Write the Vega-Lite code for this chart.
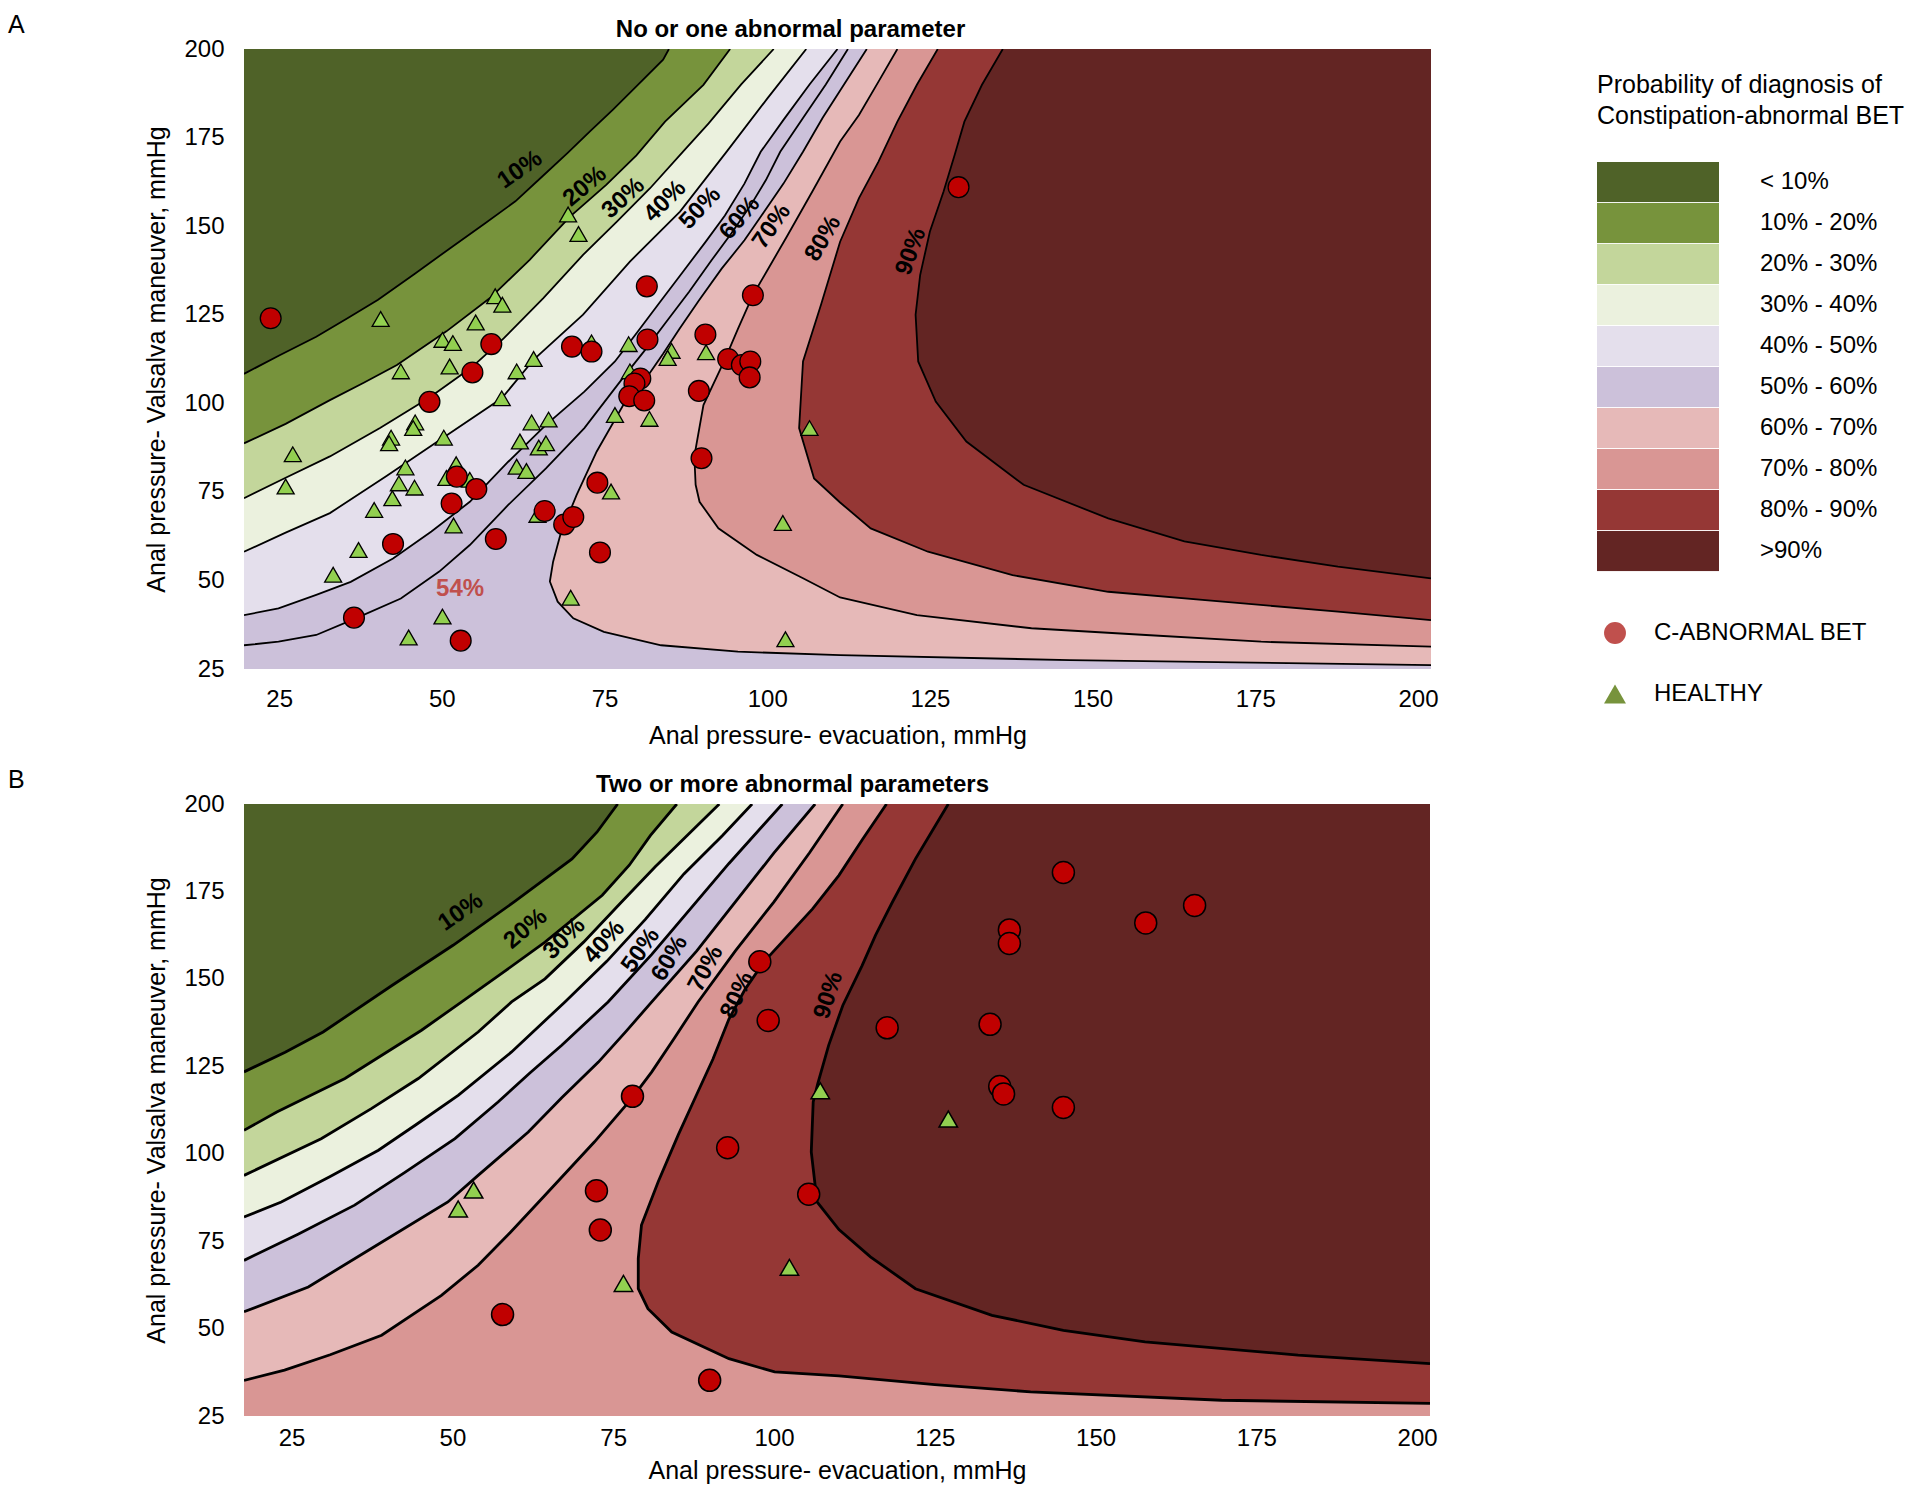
{
"$schema": "https://vega.github.io/schema/vega-lite/v6.json",
"padding": {"left": 7, "top": 13, "right": 5, "bottom": 5},
"background": "white",
"config": {
 "font": "Liberation Sans",
 "view": {"stroke": null},
 "axis": {"grid": false, "ticks": false, "domain": false, "labelFontSize": 24, "titleFontSize": 25, "titleFontWeight": "normal", "labelColor": "#000", "titleColor": "#000", "labelFont": "Liberation Sans", "titleFont": "Liberation Sans"},
 "axisBottom": {"labelPadding": 18, "titlePadding": 12},
 "axisLeft": {"labelPadding": 20, "titlePadding": 14},
 "legend": {"labelFont": "Liberation Sans", "titleFont": "Liberation Sans"},
 "title": {"font": "Liberation Sans"}
},
"datasets": {
 "contA": [
  {"cat":">90%","i":0,"x":19.6,"y":25,"e":0},{"cat":">90%","i":1,"x":202,"y":25,"e":0},{"cat":">90%","i":2,"x":202,"y":200,"e":0},{"cat":">90%","i":3,"x":19.6,"y":200,"e":0},
  {"cat":"80% - 90%","i":0,"x":136.2,"y":200,"e":1},{"cat":"80% - 90%","i":1,"x":133,"y":189.9,"e":1},{"cat":"80% - 90%","i":2,"x":130.3,"y":179.5,"e":1},{"cat":"80% - 90%","i":3,"x":128.8,"y":170.1,"e":1},{"cat":"80% - 90%","i":4,"x":127.1,"y":159.8,"e":1},{"cat":"80% - 90%","i":5,"x":125,"y":148.5,"e":1},{"cat":"80% - 90%","i":6,"x":123.5,"y":136.2,"e":1},{"cat":"80% - 90%","i":7,"x":122.8,"y":125,"e":1},{"cat":"80% - 90%","i":8,"x":123.2,"y":111.8,"e":1},{"cat":"80% - 90%","i":9,"x":125.9,"y":100.5,"e":1},{"cat":"80% - 90%","i":10,"x":130.6,"y":89.2,"e":1},{"cat":"80% - 90%","i":11,"x":139.4,"y":77,"e":1},{"cat":"80% - 90%","i":12,"x":152.4,"y":67.5,"e":1},{"cat":"80% - 90%","i":13,"x":164.1,"y":61,"e":1},{"cat":"80% - 90%","i":14,"x":175.9,"y":57.2,"e":1},{"cat":"80% - 90%","i":15,"x":187.7,"y":53.9,"e":1},{"cat":"80% - 90%","i":16,"x":202,"y":50.6,"e":1},{"cat":"80% - 90%","i":17,"x":202,"y":25,"e":0},{"cat":"80% - 90%","i":18,"x":19.6,"y":25,"e":0},{"cat":"80% - 90%","i":19,"x":19.6,"y":200,"e":0},
  {"cat":"70% - 80%","i":0,"x":126.2,"y":200,"e":1},{"cat":"70% - 80%","i":1,"x":123,"y":189.9,"e":1},{"cat":"70% - 80%","i":2,"x":120,"y":179.5,"e":1},{"cat":"70% - 80%","i":3,"x":117.1,"y":168.2,"e":1},{"cat":"70% - 80%","i":4,"x":114.1,"y":157.9,"e":1},{"cat":"70% - 80%","i":5,"x":111.2,"y":145.6,"e":1},{"cat":"70% - 80%","i":6,"x":108.3,"y":128,"e":1},{"cat":"70% - 80%","i":7,"x":105.5,"y":111.8,"e":1},{"cat":"70% - 80%","i":8,"x":104.9,"y":93,"e":1},{"cat":"70% - 80%","i":9,"x":107.2,"y":78.8,"e":1},{"cat":"70% - 80%","i":10,"x":111.2,"y":72,"e":1},{"cat":"70% - 80%","i":11,"x":115.9,"y":64.7,"e":1},{"cat":"70% - 80%","i":12,"x":124.7,"y":58.1,"e":1},{"cat":"70% - 80%","i":13,"x":137.7,"y":51.5,"e":1},{"cat":"70% - 80%","i":14,"x":152.4,"y":46.8,"e":1},{"cat":"70% - 80%","i":15,"x":170,"y":44,"e":1},{"cat":"70% - 80%","i":16,"x":187.7,"y":41.2,"e":1},{"cat":"70% - 80%","i":17,"x":202,"y":38.8,"e":1},{"cat":"70% - 80%","i":18,"x":202,"y":25,"e":0},{"cat":"70% - 80%","i":19,"x":19.6,"y":25,"e":0},{"cat":"70% - 80%","i":20,"x":19.6,"y":200,"e":0},
  {"cat":"60% - 70%","i":0,"x":120,"y":200,"e":1},{"cat":"60% - 70%","i":1,"x":117.1,"y":190.8,"e":1},{"cat":"60% - 70%","i":2,"x":114.1,"y":181.4,"e":1},{"cat":"60% - 70%","i":3,"x":111.2,"y":173.9,"e":1},{"cat":"60% - 70%","i":4,"x":107,"y":160,"e":1},{"cat":"60% - 70%","i":5,"x":103,"y":147,"e":1},{"cat":"60% - 70%","i":6,"x":100,"y":137.5,"e":1},{"cat":"60% - 70%","i":7,"x":97.8,"y":130.5,"e":1},{"cat":"60% - 70%","i":8,"x":95.5,"y":121,"e":1},{"cat":"60% - 70%","i":9,"x":93.4,"y":112,"e":1},{"cat":"60% - 70%","i":10,"x":90.2,"y":99.5,"e":1},{"cat":"60% - 70%","i":11,"x":88.8,"y":85,"e":1},{"cat":"60% - 70%","i":12,"x":89,"y":77,"e":1},{"cat":"60% - 70%","i":13,"x":89.6,"y":72.2,"e":1},{"cat":"60% - 70%","i":14,"x":92.5,"y":64.7,"e":1},{"cat":"60% - 70%","i":15,"x":98.4,"y":57.2,"e":1},{"cat":"60% - 70%","i":16,"x":105.5,"y":50.6,"e":1},{"cat":"60% - 70%","i":17,"x":111.2,"y":45.2,"e":1},{"cat":"60% - 70%","i":18,"x":123,"y":40.2,"e":1},{"cat":"60% - 70%","i":19,"x":140.6,"y":36.5,"e":1},{"cat":"60% - 70%","i":20,"x":158.2,"y":34.6,"e":1},{"cat":"60% - 70%","i":21,"x":175.9,"y":32.7,"e":1},{"cat":"60% - 70%","i":22,"x":202,"y":31.3,"e":1},{"cat":"60% - 70%","i":23,"x":202,"y":25,"e":0},{"cat":"60% - 70%","i":24,"x":19.6,"y":25,"e":0},{"cat":"60% - 70%","i":25,"x":19.6,"y":200,"e":0},
  {"cat":"50% - 60%","i":0,"x":115.3,"y":200,"e":1},{"cat":"50% - 60%","i":1,"x":111.8,"y":190,"e":1},{"cat":"50% - 60%","i":2,"x":108.5,"y":180.5,"e":1},{"cat":"50% - 60%","i":3,"x":105.5,"y":171,"e":1},{"cat":"50% - 60%","i":4,"x":102.5,"y":162,"e":1},{"cat":"50% - 60%","i":5,"x":99.5,"y":154,"e":1},{"cat":"50% - 60%","i":6,"x":96.5,"y":146,"e":1},{"cat":"50% - 60%","i":7,"x":93,"y":138,"e":1},{"cat":"50% - 60%","i":8,"x":89.5,"y":129,"e":1},{"cat":"50% - 60%","i":9,"x":86.5,"y":121,"e":1},{"cat":"50% - 60%","i":10,"x":84,"y":114,"e":1},{"cat":"50% - 60%","i":11,"x":81,"y":106,"e":1},{"cat":"50% - 60%","i":12,"x":77.9,"y":99.6,"e":1},{"cat":"50% - 60%","i":13,"x":73.8,"y":86.4,"e":1},{"cat":"50% - 60%","i":14,"x":70.7,"y":74.1,"e":1},{"cat":"50% - 60%","i":15,"x":68.2,"y":62.8,"e":1},{"cat":"50% - 60%","i":16,"x":67.1,"y":55.3,"e":1},{"cat":"50% - 60%","i":17,"x":66.6,"y":49.7,"e":1},{"cat":"50% - 60%","i":18,"x":67.8,"y":44,"e":1},{"cat":"50% - 60%","i":19,"x":70.2,"y":39.3,"e":1},{"cat":"50% - 60%","i":20,"x":74.9,"y":35.5,"e":1},{"cat":"50% - 60%","i":21,"x":83.7,"y":31.7,"e":1},{"cat":"50% - 60%","i":22,"x":95.5,"y":29.9,"e":1},{"cat":"50% - 60%","i":23,"x":111.2,"y":28.9,"e":1},{"cat":"50% - 60%","i":24,"x":146.5,"y":27.5,"e":1},{"cat":"50% - 60%","i":25,"x":202,"y":26.1,"e":1},{"cat":"50% - 60%","i":26,"x":202,"y":25,"e":0},{"cat":"50% - 60%","i":27,"x":19.6,"y":25,"e":0},{"cat":"50% - 60%","i":28,"x":19.6,"y":200,"e":0},
  {"cat":"40% - 50%","i":0,"x":19.6,"y":40.2,"e":1},{"cat":"40% - 50%","i":1,"x":24.9,"y":42.1,"e":1},{"cat":"40% - 50%","i":2,"x":30.7,"y":45.9,"e":1},{"cat":"40% - 50%","i":3,"x":36,"y":49.6,"e":1},{"cat":"40% - 50%","i":4,"x":42.5,"y":56.2,"e":1},{"cat":"40% - 50%","i":5,"x":48.4,"y":63.8,"e":1},{"cat":"40% - 50%","i":6,"x":54.3,"y":72.2,"e":1},{"cat":"40% - 50%","i":7,"x":60.2,"y":83.5,"e":1},{"cat":"40% - 50%","i":8,"x":66,"y":93.9,"e":1},{"cat":"40% - 50%","i":9,"x":71.9,"y":103.3,"e":1},{"cat":"40% - 50%","i":10,"x":76.6,"y":111.8,"e":1},{"cat":"40% - 50%","i":11,"x":80,"y":120,"e":1},{"cat":"40% - 50%","i":12,"x":83.5,"y":128.5,"e":1},{"cat":"40% - 50%","i":13,"x":87,"y":137,"e":1},{"cat":"40% - 50%","i":14,"x":90.5,"y":145.5,"e":1},{"cat":"40% - 50%","i":15,"x":93.5,"y":153,"e":1},{"cat":"40% - 50%","i":16,"x":96.5,"y":162,"e":1},{"cat":"40% - 50%","i":17,"x":99,"y":171,"e":1},{"cat":"40% - 50%","i":18,"x":102.5,"y":180,"e":1},{"cat":"40% - 50%","i":19,"x":106.5,"y":190,"e":1},{"cat":"40% - 50%","i":20,"x":110.8,"y":200,"e":1},{"cat":"40% - 50%","i":21,"x":19.6,"y":200,"e":0},
  {"cat":"30% - 40%","i":0,"x":19.6,"y":58.1,"e":1},{"cat":"30% - 40%","i":1,"x":26,"y":63.5,"e":1},{"cat":"30% - 40%","i":2,"x":32.8,"y":69,"e":1},{"cat":"30% - 40%","i":3,"x":41.5,"y":79.5,"e":1},{"cat":"30% - 40%","i":4,"x":50.2,"y":90.3,"e":1},{"cat":"30% - 40%","i":5,"x":59.2,"y":101.4,"e":1},{"cat":"30% - 40%","i":6,"x":64.2,"y":112.5,"e":1},{"cat":"30% - 40%","i":7,"x":71.7,"y":125,"e":1},{"cat":"30% - 40%","i":8,"x":78.9,"y":140,"e":1},{"cat":"30% - 40%","i":9,"x":86.6,"y":154.1,"e":1},{"cat":"30% - 40%","i":10,"x":93.8,"y":171.1,"e":1},{"cat":"30% - 40%","i":11,"x":100,"y":186,"e":1},{"cat":"30% - 40%","i":12,"x":106,"y":200,"e":1},{"cat":"30% - 40%","i":13,"x":19.6,"y":200,"e":0},
  {"cat":"20% - 30%","i":0,"x":19.6,"y":73.2,"e":1},{"cat":"20% - 30%","i":1,"x":26,"y":79,"e":1},{"cat":"20% - 30%","i":2,"x":32.8,"y":85,"e":1},{"cat":"20% - 30%","i":3,"x":40.5,"y":93,"e":1},{"cat":"20% - 30%","i":4,"x":48,"y":101.5,"e":1},{"cat":"20% - 30%","i":5,"x":54.5,"y":110,"e":1},{"cat":"20% - 30%","i":6,"x":59.5,"y":118.3,"e":1},{"cat":"20% - 30%","i":7,"x":65.6,"y":129.7,"e":1},{"cat":"20% - 30%","i":8,"x":71.7,"y":141.9,"e":1},{"cat":"20% - 30%","i":9,"x":76.9,"y":151.3,"e":1},{"cat":"20% - 30%","i":10,"x":82,"y":160.7,"e":1},{"cat":"20% - 30%","i":11,"x":87.1,"y":171.1,"e":1},{"cat":"20% - 30%","i":12,"x":91,"y":179,"e":1},{"cat":"20% - 30%","i":13,"x":96,"y":190,"e":1},{"cat":"20% - 30%","i":14,"x":101,"y":200,"e":1},{"cat":"20% - 30%","i":15,"x":19.6,"y":200,"e":0},
  {"cat":"10% - 20%","i":0,"x":19.6,"y":88.7,"e":1},{"cat":"10% - 20%","i":1,"x":26,"y":94.2,"e":1},{"cat":"10% - 20%","i":2,"x":32.8,"y":100.9,"e":1},{"cat":"10% - 20%","i":3,"x":38,"y":105.8,"e":1},{"cat":"10% - 20%","i":4,"x":43.1,"y":110.8,"e":1},{"cat":"10% - 20%","i":5,"x":50.7,"y":120.3,"e":1},{"cat":"10% - 20%","i":6,"x":57.4,"y":129.7,"e":1},{"cat":"10% - 20%","i":7,"x":63.5,"y":140.5,"e":1},{"cat":"10% - 20%","i":8,"x":69.7,"y":152.7,"e":1},{"cat":"10% - 20%","i":9,"x":75.3,"y":161.7,"e":1},{"cat":"10% - 20%","i":10,"x":79.9,"y":170,"e":1},{"cat":"10% - 20%","i":11,"x":84.3,"y":179.5,"e":1},{"cat":"10% - 20%","i":12,"x":90.2,"y":189.9,"e":1},{"cat":"10% - 20%","i":13,"x":94.3,"y":200,"e":1},{"cat":"10% - 20%","i":14,"x":19.6,"y":200,"e":0},
  {"cat":"< 10%","i":0,"x":19.6,"y":108.3,"e":1},{"cat":"< 10%","i":1,"x":25,"y":113.5,"e":1},{"cat":"< 10%","i":2,"x":30.7,"y":118.8,"e":1},{"cat":"< 10%","i":3,"x":35.5,"y":124,"e":1},{"cat":"< 10%","i":4,"x":40.2,"y":129.2,"e":1},{"cat":"< 10%","i":5,"x":45.8,"y":136.5,"e":1},{"cat":"< 10%","i":6,"x":51.6,"y":144.2,"e":1},{"cat":"< 10%","i":7,"x":56.5,"y":150.6,"e":1},{"cat":"< 10%","i":8,"x":61.3,"y":157,"e":1},{"cat":"< 10%","i":9,"x":65.3,"y":163.8,"e":1},{"cat":"< 10%","i":10,"x":69.3,"y":170.6,"e":1},{"cat":"< 10%","i":11,"x":72.8,"y":176.8,"e":1},{"cat":"< 10%","i":12,"x":76.3,"y":182.9,"e":1},{"cat":"< 10%","i":13,"x":80.2,"y":190,"e":1},{"cat":"< 10%","i":14,"x":84,"y":197,"e":1},{"cat":"< 10%","i":15,"x":84.9,"y":200,"e":1},{"cat":"< 10%","i":16,"x":19.6,"y":200,"e":0},
  {"cat":"54%","i":0,"x":19.6,"y":31.7,"e":1},{"cat":"54%","i":1,"x":24.9,"y":32.7,"e":1},{"cat":"54%","i":2,"x":30.7,"y":34.6,"e":1},{"cat":"54%","i":3,"x":36.5,"y":39.1,"e":1},{"cat":"54%","i":4,"x":43.7,"y":44.9,"e":1},{"cat":"54%","i":5,"x":49.6,"y":52.5,"e":1},{"cat":"54%","i":6,"x":54.3,"y":60,"e":1},{"cat":"54%","i":7,"x":60.2,"y":71.3,"e":1},{"cat":"54%","i":8,"x":66,"y":81.6,"e":1},{"cat":"54%","i":9,"x":71.9,"y":93,"e":1},{"cat":"54%","i":10,"x":77.8,"y":107.1,"e":1},{"cat":"54%","i":11,"x":81,"y":114.5,"e":1},{"cat":"54%","i":12,"x":84.5,"y":123,"e":1},{"cat":"54%","i":13,"x":88,"y":131.5,"e":1},{"cat":"54%","i":14,"x":91.5,"y":140.5,"e":1},{"cat":"54%","i":15,"x":94.5,"y":148,"e":1},{"cat":"54%","i":16,"x":97.5,"y":156,"e":1},{"cat":"54%","i":17,"x":99.8,"y":163,"e":1},{"cat":"54%","i":18,"x":102,"y":171,"e":1},{"cat":"54%","i":19,"x":105.5,"y":180.5,"e":1},{"cat":"54%","i":20,"x":109,"y":190,"e":1},{"cat":"54%","i":21,"x":112.4,"y":200,"e":1}
 ],
 "contB": [
  {"cat":">90%","i":0,"x":17.6,"y":25,"e":0},{"cat":">90%","i":1,"x":202,"y":25,"e":0},{"cat":">90%","i":2,"x":202,"y":200,"e":0},{"cat":">90%","i":3,"x":17.6,"y":200,"e":0},
  {"cat":"80% - 90%","i":0,"x":127.1,"y":200,"e":1},{"cat":"80% - 90%","i":1,"x":124.5,"y":192,"e":1},{"cat":"80% - 90%","i":2,"x":122,"y":184.3,"e":1},{"cat":"80% - 90%","i":3,"x":118.4,"y":171.9,"e":1},{"cat":"80% - 90%","i":4,"x":115.8,"y":162.5,"e":1},{"cat":"80% - 90%","i":5,"x":113.7,"y":153.8,"e":1},{"cat":"80% - 90%","i":6,"x":110.7,"y":142.4,"e":1},{"cat":"80% - 90%","i":7,"x":108.5,"y":131,"e":1},{"cat":"80% - 90%","i":8,"x":106.8,"y":120,"e":1},{"cat":"80% - 90%","i":9,"x":106.1,"y":114.8,"e":1},{"cat":"80% - 90%","i":10,"x":105.8,"y":100.5,"e":1},{"cat":"80% - 90%","i":11,"x":106.7,"y":86.2,"e":1},{"cat":"80% - 90%","i":12,"x":110.1,"y":78.3,"e":1},{"cat":"80% - 90%","i":13,"x":115,"y":70.5,"e":1},{"cat":"80% - 90%","i":14,"x":122,"y":61.4,"e":1},{"cat":"80% - 90%","i":15,"x":133.9,"y":53.8,"e":1},{"cat":"80% - 90%","i":16,"x":145,"y":49.5,"e":1},{"cat":"80% - 90%","i":17,"x":157.7,"y":46.2,"e":1},{"cat":"80% - 90%","i":18,"x":181.5,"y":42.4,"e":1},{"cat":"80% - 90%","i":19,"x":202,"y":40,"e":1},{"cat":"80% - 90%","i":20,"x":202,"y":25,"e":0},{"cat":"80% - 90%","i":21,"x":17.6,"y":25,"e":0},{"cat":"80% - 90%","i":22,"x":17.6,"y":200,"e":0},
  {"cat":"70% - 80%","i":0,"x":117.5,"y":200,"e":1},{"cat":"70% - 80%","i":1,"x":113.8,"y":190,"e":1},{"cat":"70% - 80%","i":2,"x":110.1,"y":179.6,"e":1},{"cat":"70% - 80%","i":3,"x":106,"y":170,"e":1},{"cat":"70% - 80%","i":4,"x":102,"y":162,"e":1},{"cat":"70% - 80%","i":5,"x":98.5,"y":155,"e":1},{"cat":"70% - 80%","i":6,"x":95.5,"y":147,"e":1},{"cat":"70% - 80%","i":7,"x":93,"y":138.5,"e":1},{"cat":"70% - 80%","i":8,"x":90.5,"y":127,"e":1},{"cat":"70% - 80%","i":9,"x":88,"y":117,"e":1},{"cat":"70% - 80%","i":10,"x":85.1,"y":105.3,"e":1},{"cat":"70% - 80%","i":11,"x":82,"y":92,"e":1},{"cat":"70% - 80%","i":12,"x":79.4,"y":79.6,"e":1},{"cat":"70% - 80%","i":13,"x":78.9,"y":70,"e":1},{"cat":"70% - 80%","i":14,"x":78.9,"y":61.4,"e":1},{"cat":"70% - 80%","i":15,"x":80.4,"y":55.7,"e":1},{"cat":"70% - 80%","i":16,"x":84.1,"y":49,"e":1},{"cat":"70% - 80%","i":17,"x":93,"y":41.4,"e":1},{"cat":"70% - 80%","i":18,"x":100.1,"y":37.6,"e":1},{"cat":"70% - 80%","i":19,"x":110.1,"y":36.5,"e":1},{"cat":"70% - 80%","i":20,"x":125,"y":34,"e":1},{"cat":"70% - 80%","i":21,"x":139.9,"y":31.9,"e":1},{"cat":"70% - 80%","i":22,"x":169.6,"y":29.5,"e":1},{"cat":"70% - 80%","i":23,"x":202,"y":28.6,"e":1},{"cat":"70% - 80%","i":24,"x":202,"y":25,"e":0},{"cat":"70% - 80%","i":25,"x":17.6,"y":25,"e":0},{"cat":"70% - 80%","i":26,"x":17.6,"y":200,"e":0},
  {"cat":"60% - 70%","i":0,"x":17.6,"y":35.2,"e":1},{"cat":"60% - 70%","i":1,"x":23.9,"y":38.1,"e":1},{"cat":"60% - 70%","i":2,"x":31,"y":42.5,"e":1},{"cat":"60% - 70%","i":3,"x":39,"y":48.1,"e":1},{"cat":"60% - 70%","i":4,"x":48.3,"y":59.5,"e":1},{"cat":"60% - 70%","i":5,"x":54,"y":68.1,"e":1},{"cat":"60% - 70%","i":6,"x":59,"y":77.5,"e":1},{"cat":"60% - 70%","i":7,"x":64.4,"y":88.1,"e":1},{"cat":"60% - 70%","i":8,"x":72.1,"y":103.4,"e":1},{"cat":"60% - 70%","i":9,"x":77.9,"y":115.8,"e":1},{"cat":"60% - 70%","i":10,"x":81,"y":123.4,"e":1},{"cat":"60% - 70%","i":11,"x":84.5,"y":133,"e":1},{"cat":"60% - 70%","i":12,"x":88.2,"y":143.4,"e":1},{"cat":"60% - 70%","i":13,"x":94,"y":158,"e":1},{"cat":"60% - 70%","i":14,"x":100,"y":172,"e":1},{"cat":"60% - 70%","i":15,"x":105.5,"y":186,"e":1},{"cat":"60% - 70%","i":16,"x":110.7,"y":200,"e":1},{"cat":"60% - 70%","i":17,"x":17.6,"y":200,"e":0},
  {"cat":"50% - 60%","i":0,"x":17.6,"y":54.8,"e":1},{"cat":"50% - 60%","i":1,"x":27.6,"y":61.9,"e":1},{"cat":"50% - 60%","i":2,"x":37.4,"y":72.9,"e":1},{"cat":"50% - 60%","i":3,"x":49.3,"y":86.2,"e":1},{"cat":"50% - 60%","i":4,"x":54,"y":93.8,"e":1},{"cat":"50% - 60%","i":5,"x":61.8,"y":106.2,"e":1},{"cat":"50% - 60%","i":6,"x":67,"y":116,"e":1},{"cat":"50% - 60%","i":7,"x":72.7,"y":126.2,"e":1},{"cat":"50% - 60%","i":8,"x":77,"y":135,"e":1},{"cat":"50% - 60%","i":9,"x":81,"y":143.4,"e":1},{"cat":"50% - 60%","i":10,"x":88,"y":158,"e":1},{"cat":"50% - 60%","i":11,"x":94,"y":172,"e":1},{"cat":"50% - 60%","i":12,"x":100,"y":186,"e":1},{"cat":"50% - 60%","i":13,"x":106.4,"y":200,"e":1},{"cat":"50% - 60%","i":14,"x":17.6,"y":200,"e":0},
  {"cat":"40% - 50%","i":0,"x":17.6,"y":69.5,"e":1},{"cat":"40% - 50%","i":1,"x":26,"y":77,"e":1},{"cat":"40% - 50%","i":2,"x":34.8,"y":85.3,"e":1},{"cat":"40% - 50%","i":3,"x":42.5,"y":94.5,"e":1},{"cat":"40% - 50%","i":4,"x":50.4,"y":104.3,"e":1},{"cat":"40% - 50%","i":5,"x":57.1,"y":114.8,"e":1},{"cat":"40% - 50%","i":6,"x":62,"y":123,"e":1},{"cat":"40% - 50%","i":7,"x":67,"y":131,"e":1},{"cat":"40% - 50%","i":8,"x":74.2,"y":143.4,"e":1},{"cat":"40% - 50%","i":9,"x":81,"y":157,"e":1},{"cat":"40% - 50%","i":10,"x":87,"y":170,"e":1},{"cat":"40% - 50%","i":11,"x":93,"y":183,"e":1},{"cat":"40% - 50%","i":12,"x":101.3,"y":200,"e":1},{"cat":"40% - 50%","i":13,"x":17.6,"y":200,"e":0},
  {"cat":"30% - 40%","i":0,"x":17.6,"y":81.9,"e":1},{"cat":"30% - 40%","i":1,"x":23.4,"y":86.2,"e":1},{"cat":"30% - 40%","i":2,"x":31,"y":93.5,"e":1},{"cat":"30% - 40%","i":3,"x":38.5,"y":101,"e":1},{"cat":"30% - 40%","i":4,"x":44.5,"y":108.5,"e":1},{"cat":"30% - 40%","i":5,"x":50.9,"y":116.7,"e":1},{"cat":"30% - 40%","i":6,"x":59.2,"y":129.1,"e":1},{"cat":"30% - 40%","i":7,"x":67.5,"y":143.4,"e":1},{"cat":"30% - 40%","i":8,"x":74,"y":155,"e":1},{"cat":"30% - 40%","i":9,"x":80,"y":167,"e":1},{"cat":"30% - 40%","i":10,"x":86,"y":180,"e":1},{"cat":"30% - 40%","i":11,"x":92,"y":191,"e":1},{"cat":"30% - 40%","i":12,"x":96.6,"y":200,"e":1},{"cat":"30% - 40%","i":13,"x":17.6,"y":200,"e":0},
  {"cat":"20% - 30%","i":0,"x":17.6,"y":93.8,"e":1},{"cat":"20% - 30%","i":1,"x":29.6,"y":104.3,"e":1},{"cat":"20% - 30%","i":2,"x":37.4,"y":112.9,"e":1},{"cat":"20% - 30%","i":3,"x":44.7,"y":121.5,"e":1},{"cat":"20% - 30%","i":4,"x":54,"y":134.8,"e":1},{"cat":"20% - 30%","i":5,"x":59.2,"y":143.4,"e":1},{"cat":"20% - 30%","i":6,"x":64.4,"y":150,"e":1},{"cat":"20% - 30%","i":7,"x":70.4,"y":160.5,"e":1},{"cat":"20% - 30%","i":8,"x":76.3,"y":172,"e":1},{"cat":"20% - 30%","i":9,"x":81.5,"y":182,"e":1},{"cat":"20% - 30%","i":10,"x":86.5,"y":191,"e":1},{"cat":"20% - 30%","i":11,"x":91.5,"y":200,"e":1},{"cat":"20% - 30%","i":12,"x":17.6,"y":200,"e":0},
  {"cat":"10% - 20%","i":0,"x":17.6,"y":106.7,"e":1},{"cat":"10% - 20%","i":1,"x":22.7,"y":111.9,"e":1},{"cat":"10% - 20%","i":2,"x":33.3,"y":121.5,"e":1},{"cat":"10% - 20%","i":3,"x":45.2,"y":135.3,"e":1},{"cat":"10% - 20%","i":4,"x":51.5,"y":143.5,"e":1},{"cat":"10% - 20%","i":5,"x":58,"y":152,"e":1},{"cat":"10% - 20%","i":6,"x":64.4,"y":160.5,"e":1},{"cat":"10% - 20%","i":7,"x":73.3,"y":173.9,"e":1},{"cat":"10% - 20%","i":8,"x":77.5,"y":182.5,"e":1},{"cat":"10% - 20%","i":9,"x":80.8,"y":191,"e":1},{"cat":"10% - 20%","i":10,"x":84.9,"y":200,"e":1},{"cat":"10% - 20%","i":11,"x":17.6,"y":200,"e":0},
  {"cat":"< 10%","i":0,"x":17.6,"y":123.4,"e":1},{"cat":"< 10%","i":1,"x":24,"y":129,"e":1},{"cat":"< 10%","i":2,"x":29.9,"y":134.8,"e":1},{"cat":"< 10%","i":3,"x":40.6,"y":148.1,"e":1},{"cat":"< 10%","i":4,"x":50.1,"y":159.6,"e":1},{"cat":"< 10%","i":5,"x":59.6,"y":172,"e":1},{"cat":"< 10%","i":6,"x":68.6,"y":184.3,"e":1},{"cat":"< 10%","i":7,"x":72.5,"y":192,"e":1},{"cat":"< 10%","i":8,"x":75.7,"y":200,"e":1},{"cat":"< 10%","i":9,"x":17.6,"y":200,"e":0}
 ],
 "labA": [
  {"t":"10%","x":62,"y":165.9,"a":-35},{"t":"20%","x":72,"y":161.2,"a":-40},{"t":"30%","x":77.9,"y":157.9,"a":-42},{"t":"40%","x":84.3,"y":157,"a":-45},{"t":"50%","x":89.7,"y":155.1,"a":-47},{"t":"60%","x":95.8,"y":152.3,"a":-50},{"t":"70%","x":100.7,"y":149.9,"a":-55},{"t":"80%","x":108.6,"y":146.5,"a":-60},{"t":"90%","x":122.1,"y":142.8,"a":-70},{"t":"54%","x":52.8,"y":47.5,"a":0}
 ],
 "labB": [
  {"t":"10%","x":51.3,"y":169.1,"a":-35},{"t":"20%","x":61.4,"y":164.3,"a":-40},{"t":"30%","x":67.4,"y":161.5,"a":-45},{"t":"40%","x":73.6,"y":160.5,"a":-48},{"t":"50%","x":79.3,"y":158.1,"a":-55},{"t":"60%","x":83.8,"y":155.8,"a":-60},{"t":"70%","x":89.4,"y":152.9,"a":-62},{"t":"80%","x":94.3,"y":145.3,"a":-65},{"t":"90%","x":108.5,"y":145.3,"a":-72}
 ],
 "ptsA": [
  {"g":"HEALTHY","x":69.4,"y":153.3},{"g":"HEALTHY","x":71.0,"y":147.8},{"g":"HEALTHY","x":40.6,"y":123.8},{"g":"HEALTHY","x":58.2,"y":130.2},{"g":"HEALTHY","x":59.3,"y":127.8},{"g":"HEALTHY","x":55.2,"y":122.8},{"g":"HEALTHY","x":50.1,"y":117.9},{"g":"HEALTHY","x":51.7,"y":117.0},{"g":"HEALTHY","x":64.1,"y":112.5},{"g":"HEALTHY","x":73.0,"y":117.2},{"g":"HEALTHY","x":78.7,"y":116.7},{"g":"HEALTHY","x":85.3,"y":114.8},{"g":"HEALTHY","x":84.7,"y":112.8},{"g":"HEALTHY","x":90.6,"y":114.4},{"g":"HEALTHY","x":43.7,"y":109.0},{"g":"HEALTHY","x":51.2,"y":110.4},{"g":"HEALTHY","x":61.5,"y":109.0},{"g":"HEALTHY","x":78.9,"y":109.0},{"g":"HEALTHY","x":59.2,"y":101.4},{"g":"HEALTHY","x":45.9,"y":94.6},{"g":"HEALTHY","x":45.6,"y":93.0},{"g":"HEALTHY","x":42.2,"y":90.3},{"g":"HEALTHY","x":41.9,"y":88.7},{"g":"HEALTHY","x":50.3,"y":90.3},{"g":"HEALTHY","x":27.1,"y":85.6},{"g":"HEALTHY","x":26.0,"y":76.5},{"g":"HEALTHY","x":63.8,"y":94.6},{"g":"HEALTHY","x":66.4,"y":95.4},{"g":"HEALTHY","x":62.0,"y":89.2},{"g":"HEALTHY","x":64.9,"y":87.5},{"g":"HEALTHY","x":66.0,"y":88.7},{"g":"HEALTHY","x":44.4,"y":81.9},{"g":"HEALTHY","x":52.2,"y":82.8},{"g":"HEALTHY","x":50.7,"y":78.9},{"g":"HEALTHY","x":54.3,"y":78.4},{"g":"HEALTHY","x":43.4,"y":77.4},{"g":"HEALTHY","x":45.8,"y":76.2},{"g":"HEALTHY","x":42.4,"y":73.2},{"g":"HEALTHY","x":39.6,"y":69.9},{"g":"HEALTHY","x":61.5,"y":82.1},{"g":"HEALTHY","x":63.0,"y":80.9},{"g":"HEALTHY","x":51.8,"y":65.5},{"g":"HEALTHY","x":37.2,"y":58.6},{"g":"HEALTHY","x":33.3,"y":51.6},{"g":"HEALTHY","x":50.1,"y":39.8},{"g":"HEALTHY","x":44.9,"y":33.9},{"g":"HEALTHY","x":76.6,"y":96.7},{"g":"HEALTHY","x":81.9,"y":95.6},{"g":"HEALTHY","x":76.0,"y":75.1},{"g":"HEALTHY","x":64.7,"y":68.5},{"g":"HEALTHY","x":69.8,"y":45.1},{"g":"HEALTHY","x":106.5,"y":93.0},{"g":"HEALTHY","x":102.4,"y":66.2},{"g":"HEALTHY","x":102.8,"y":33.4},
  {"g":"C-ABNORMAL BET","x":23.7,"y":124},{"g":"C-ABNORMAL BET","x":81.5,"y":133},{"g":"C-ABNORMAL BET","x":129.4,"y":161},{"g":"C-ABNORMAL BET","x":97.8,"y":130.5},{"g":"C-ABNORMAL BET","x":57.6,"y":116.7},{"g":"C-ABNORMAL BET","x":70,"y":116},{"g":"C-ABNORMAL BET","x":73,"y":114.6},{"g":"C-ABNORMAL BET","x":81.6,"y":118},{"g":"C-ABNORMAL BET","x":90.5,"y":119.4},{"g":"C-ABNORMAL BET","x":54.7,"y":108.7},{"g":"C-ABNORMAL BET","x":48.1,"y":100.4},{"g":"C-ABNORMAL BET","x":80.5,"y":107},{"g":"C-ABNORMAL BET","x":79.6,"y":105.6},{"g":"C-ABNORMAL BET","x":78.8,"y":102},{"g":"C-ABNORMAL BET","x":81.1,"y":100.8},{"g":"C-ABNORMAL BET","x":89.5,"y":103.5},{"g":"C-ABNORMAL BET","x":94,"y":112.5},{"g":"C-ABNORMAL BET","x":96.1,"y":110.8},{"g":"C-ABNORMAL BET","x":97.4,"y":111.8},{"g":"C-ABNORMAL BET","x":97.3,"y":107.3},{"g":"C-ABNORMAL BET","x":52.3,"y":79.3},{"g":"C-ABNORMAL BET","x":51.5,"y":71.7},{"g":"C-ABNORMAL BET","x":55.3,"y":75.8},{"g":"C-ABNORMAL BET","x":42.5,"y":60.3},{"g":"C-ABNORMAL BET","x":58.3,"y":61.7},{"g":"C-ABNORMAL BET","x":65.8,"y":69.6},{"g":"C-ABNORMAL BET","x":68.8,"y":65.8},{"g":"C-ABNORMAL BET","x":70.2,"y":67.9},{"g":"C-ABNORMAL BET","x":73.9,"y":77.6},{"g":"C-ABNORMAL BET","x":74.3,"y":57.9},{"g":"C-ABNORMAL BET","x":89.9,"y":84.5},{"g":"C-ABNORMAL BET","x":36.5,"y":39.5},{"g":"C-ABNORMAL BET","x":52.9,"y":33}
 ],
 "ptsB": [
  {"g":"HEALTHY","x":107.2,"y":118},{"g":"HEALTHY","x":53.3,"y":89.6},{"g":"HEALTHY","x":50.9,"y":84.2},{"g":"HEALTHY","x":76.6,"y":62.9},{"g":"HEALTHY","x":102.4,"y":67.5},{"g":"HEALTHY","x":127.1,"y":109.9},
  {"g":"C-ABNORMAL BET","x":97.8,"y":154.9},{"g":"C-ABNORMAL BET","x":99.1,"y":138.1},{"g":"C-ABNORMAL BET","x":117.6,"y":136},{"g":"C-ABNORMAL BET","x":133.6,"y":137},{"g":"C-ABNORMAL BET","x":145,"y":180.4},{"g":"C-ABNORMAL BET","x":136.6,"y":164},{"g":"C-ABNORMAL BET","x":136.6,"y":160.1},{"g":"C-ABNORMAL BET","x":157.8,"y":166},{"g":"C-ABNORMAL BET","x":165.4,"y":171},{"g":"C-ABNORMAL BET","x":135.1,"y":119.2},{"g":"C-ABNORMAL BET","x":135.7,"y":117.1},{"g":"C-ABNORMAL BET","x":145,"y":113.2},{"g":"C-ABNORMAL BET","x":78,"y":116.4},{"g":"C-ABNORMAL BET","x":92.8,"y":101.7},{"g":"C-ABNORMAL BET","x":72.4,"y":89.4},{"g":"C-ABNORMAL BET","x":73,"y":78.2},{"g":"C-ABNORMAL BET","x":105.4,"y":88.4},{"g":"C-ABNORMAL BET","x":57.8,"y":54},{"g":"C-ABNORMAL BET","x":90,"y":35.2}
 ]
},
"vconcat": [
 {
  "width": 1187, "height": 620,
  "title": {"text": "A", "anchor": "start", "frame": "bounds", "dx": -137, "offset": -21, "fontSize": 25, "fontWeight": "normal", "color": "#000"},
  "resolve": {"scale": {"fill": "independent", "shape": "independent"}, "axis": {"x": "independent"}},
  "layer": [
   {
    "data": {"name": "contA"},
    "transform": [{"filter": "datum.cat !== '54%'"}],
    "mark": {"type": "line", "strokeWidth": 0, "strokeOpacity": 0, "clip": true, "interpolate": "linear"},
    "encoding": {
     "x": {"field": "x", "type": "quantitative", "scale": {"domain": [19.6, 202], "nice": false, "zero": false}, "title": "Anal pressure- evacuation, mmHg", "axis": {"values": [25, 50, 75, 100, 125, 150, 175, 200]}},
     "y": {"field": "y", "type": "quantitative", "scale": {"domain": [25, 200], "nice": false, "zero": false}, "title": "Anal pressure- Valsalva maneuver, mmHg", "axis": {"values": [25, 50, 75, 100, 125, 150, 175, 200]}},
     "order": {"field": "i", "type": "quantitative"},
     "fill": {"field": "cat", "type": "nominal",
      "scale": {"domain": ["< 10%", "10% - 20%", "20% - 30%", "30% - 40%", "40% - 50%", "50% - 60%", "60% - 70%", "70% - 80%", "80% - 90%", ">90%"],
                "range": ["#4f6228", "#77933c", "#c3d69b", "#ebf1de", "#e4dfec", "#ccc1da", "#e6b9b8", "#d99694", "#953735", "#632523"]},
      "legend": {"orient": "none", "legendX": 1353, "legendY": 24, "title": ["Probability of diagnosis of", "Constipation-abnormal BET"], "titleFontSize": 25, "titleFontWeight": "normal", "titleColor": "#000", "titleLineHeight": 31, "titlePadding": 33, "titleLimit": 500, "symbolType": "M-1,-0.33H1V0.33H-1Z", "symbolSize": 14884, "symbolStrokeWidth": 0, "clipHeight": 40.3, "rowPadding": 0, "labelOffset": 41, "labelFontSize": 24, "labelColor": "#000", "labelLimit": 300}}
    }
   },
   {
    "data": {"name": "contA"},
    "transform": [{"filter": "datum.e == 1"}],
    "mark": {"type": "line", "stroke": "#000", "strokeWidth": 1.8, "clip": true},
    "encoding": {
     "x": {"field": "x", "type": "quantitative", "scale": {"domain": [19.6, 202], "nice": false, "zero": false}, "axis": {"orient": "top", "title": "No or one abnormal parameter", "labels": false, "ticks": false, "domain": false, "titleFontWeight": "bold", "titleFontSize": 24, "titlePadding": 8, "titleX": 546, "titleAlign": "center"}},
     "y": {"field": "y", "type": "quantitative", "scale": {"domain": [25, 200], "nice": false, "zero": false}, "title": "Anal pressure- Valsalva maneuver, mmHg"},
     "order": {"field": "i", "type": "quantitative"},
     "detail": {"field": "cat", "type": "nominal"}
    }
   },
   {
    "data": {"name": "labA"},
    "transform": [{"filter": "datum.t !== '54%'"}],
    "mark": {"type": "text", "fontSize": 24, "fontWeight": "bold", "color": "#000", "align": "center", "baseline": "middle"},
    "encoding": {
     "x": {"field": "x", "type": "quantitative", "scale": {"domain": [19.6, 202], "nice": false, "zero": false}, "axis": null},
     "y": {"field": "y", "type": "quantitative", "scale": {"domain": [25, 200], "nice": false, "zero": false}, "title": "Anal pressure- Valsalva maneuver, mmHg"},
     "text": {"field": "t"},
     "angle": {"field": "a", "type": "quantitative", "scale": null}
    }
   },
   {
    "data": {"name": "labA"},
    "transform": [{"filter": "datum.t === '54%'"}],
    "mark": {"type": "text", "fontSize": 24, "fontWeight": "bold", "color": "#c0504d", "align": "center", "baseline": "middle"},
    "encoding": {
     "x": {"field": "x", "type": "quantitative", "scale": {"domain": [19.6, 202], "nice": false, "zero": false}, "axis": null},
     "y": {"field": "y", "type": "quantitative", "scale": {"domain": [25, 200], "nice": false, "zero": false}, "title": "Anal pressure- Valsalva maneuver, mmHg"},
     "text": {"field": "t"}
    }
   },
   {
    "data": {"name": "ptsA"},
    "transform": [{"filter": "datum.g === 'HEALTHY'"}],
    "mark": {"type": "point", "filled": true, "stroke": "#000", "strokeWidth": 1.3, "opacity": 1, "size": 290},
    "encoding": {
     "x": {"field": "x", "type": "quantitative", "scale": {"domain": [19.6, 202], "nice": false, "zero": false}, "axis": null},
     "y": {"field": "y", "type": "quantitative", "scale": {"domain": [25, 200], "nice": false, "zero": false}, "title": "Anal pressure- Valsalva maneuver, mmHg"},
     "shape": {"field": "g", "type": "nominal", "scale": {"domain": ["C-ABNORMAL BET", "HEALTHY"], "range": ["circle", "triangle-up"]}, "legend": null},
     "fill": {"field": "g", "type": "nominal", "scale": {"domain": ["C-ABNORMAL BET", "HEALTHY"], "range": ["#c00000", "#92d050"]}, "legend": null}
    }
   },
   {
    "data": {"name": "ptsA"},
    "transform": [{"filter": "datum.g !== 'HEALTHY'"}],
    "mark": {"type": "point", "filled": true, "stroke": "#000", "strokeWidth": 1.3, "opacity": 1, "size": 433},
    "encoding": {
     "x": {"field": "x", "type": "quantitative", "scale": {"domain": [19.6, 202], "nice": false, "zero": false}, "axis": null},
     "y": {"field": "y", "type": "quantitative", "scale": {"domain": [25, 200], "nice": false, "zero": false}, "title": "Anal pressure- Valsalva maneuver, mmHg"},
     "shape": {"field": "g", "type": "nominal", "scale": {"domain": ["C-ABNORMAL BET", "HEALTHY"], "range": ["circle", "triangle-up"]}, "legend": null},
     "fill": {"field": "g", "type": "nominal", "scale": {"domain": ["C-ABNORMAL BET", "HEALTHY"], "range": ["#c00000", "#92d050"]}, "legend": null}
    }
   },
   {
    "data": {"name": "ptsA"},
    "transform": [{"filter": "datum.g === 'none'"}],
    "mark": {"type": "point", "filled": true, "stroke": "#333", "strokeWidth": 1},
    "encoding": {
     "x": {"field": "x", "type": "quantitative", "scale": {"domain": [19.6, 202], "nice": false, "zero": false}, "axis": null},
     "y": {"field": "y", "type": "quantitative", "scale": {"domain": [25, 200], "nice": false, "zero": false}, "title": "Anal pressure- Valsalva maneuver, mmHg"},
     "shape": {"field": "g", "type": "nominal", "scale": {"domain": ["C-ABNORMAL BET", "HEALTHY"], "range": ["circle", "triangle-up"]},
      "legend": {"orient": "none", "legendX": 1359, "legendY": 572, "title": null, "symbolSize": 480, "symbolStrokeColor": "#333", "symbolStrokeWidth": 1, "symbolOpacity": 1, "rowPadding": 36, "labelOffset": 27, "labelFontSize": 24, "labelColor": "#000", "labelLimit": 400}},
     "fill": {"field": "g", "type": "nominal", "scale": {"domain": ["C-ABNORMAL BET", "HEALTHY"], "range": ["#c0504d", "#77933c"]},
      "legend": {"orient": "none", "legendX": 1359, "legendY": 572, "title": null, "symbolSize": 480, "symbolStrokeColor": "#333", "symbolStrokeWidth": 1, "symbolOpacity": 1, "rowPadding": 36, "labelOffset": 27, "labelFontSize": 24, "labelColor": "#000", "labelLimit": 400}}
    }
   }
  ]
 },
 {
  "width": 1186, "height": 612,
  "title": {"text": "B", "anchor": "start", "frame": "bounds", "dx": -137, "offset": -21, "fontSize": 25, "fontWeight": "normal", "color": "#000"},
  "resolve": {"scale": {"fill": "independent"}, "axis": {"x": "independent"}},
  "layer": [
   {
    "data": {"name": "contB"},
    "mark": {"type": "line", "strokeWidth": 0, "strokeOpacity": 0, "clip": true, "interpolate": "linear"},
    "encoding": {
     "x": {"field": "x", "type": "quantitative", "scale": {"domain": [17.6, 202], "nice": false, "zero": false}, "title": "Anal pressure- evacuation, mmHg", "axis": {"values": [25, 50, 75, 100, 125, 150, 175, 200], "labelPadding": 10, "titlePadding": 8}},
     "y": {"field": "y", "type": "quantitative", "scale": {"domain": [25, 200], "nice": false, "zero": false}, "title": "Anal pressure- Valsalva maneuver, mmHg", "axis": {"values": [25, 50, 75, 100, 125, 150, 175, 200]}},
     "order": {"field": "i", "type": "quantitative"},
     "fill": {"field": "cat", "type": "nominal",
      "scale": {"domain": ["< 10%", "10% - 20%", "20% - 30%", "30% - 40%", "40% - 50%", "50% - 60%", "60% - 70%", "70% - 80%", "80% - 90%", ">90%"],
                "range": ["#4f6228", "#77933c", "#c3d69b", "#ebf1de", "#e4dfec", "#ccc1da", "#e6b9b8", "#d99694", "#953735", "#632523"]},
      "legend": null}
    }
   },
   {
    "data": {"name": "contB"},
    "transform": [{"filter": "datum.e == 1"}],
    "mark": {"type": "line", "stroke": "#000", "strokeWidth": 2.8, "clip": true},
    "encoding": {
     "x": {"field": "x", "type": "quantitative", "scale": {"domain": [17.6, 202], "nice": false, "zero": false}, "axis": {"orient": "top", "title": "Two or more abnormal parameters", "labels": false, "ticks": false, "domain": false, "titleFontWeight": "bold", "titleFontSize": 24, "titlePadding": 8, "titleX": 548, "titleAlign": "center"}},
     "y": {"field": "y", "type": "quantitative", "scale": {"domain": [25, 200], "nice": false, "zero": false}, "title": "Anal pressure- Valsalva maneuver, mmHg"},
     "order": {"field": "i", "type": "quantitative"},
     "detail": {"field": "cat", "type": "nominal"}
    }
   },
   {
    "data": {"name": "labB"},
    "mark": {"type": "text", "fontSize": 24, "fontWeight": "bold", "color": "#000", "align": "center", "baseline": "middle"},
    "encoding": {
     "x": {"field": "x", "type": "quantitative", "scale": {"domain": [17.6, 202], "nice": false, "zero": false}, "axis": null},
     "y": {"field": "y", "type": "quantitative", "scale": {"domain": [25, 200], "nice": false, "zero": false}, "title": "Anal pressure- Valsalva maneuver, mmHg"},
     "text": {"field": "t"},
     "angle": {"field": "a", "type": "quantitative", "scale": null}
    }
   },
   {
    "data": {"name": "ptsB"},
    "transform": [{"filter": "datum.g === 'HEALTHY'"}],
    "mark": {"type": "point", "filled": true, "stroke": "#000", "strokeWidth": 1.5, "opacity": 1, "size": 340},
    "encoding": {
     "x": {"field": "x", "type": "quantitative", "scale": {"domain": [17.6, 202], "nice": false, "zero": false}, "axis": null},
     "y": {"field": "y", "type": "quantitative", "scale": {"domain": [25, 200], "nice": false, "zero": false}, "title": "Anal pressure- Valsalva maneuver, mmHg"},
     "shape": {"field": "g", "type": "nominal", "scale": {"domain": ["C-ABNORMAL BET", "HEALTHY"], "range": ["circle", "triangle-up"]}, "legend": null},
     "fill": {"field": "g", "type": "nominal", "scale": {"domain": ["C-ABNORMAL BET", "HEALTHY"], "range": ["#c00000", "#92d050"]}, "legend": null}
    }
   },
   {
    "data": {"name": "ptsB"},
    "transform": [{"filter": "datum.g !== 'HEALTHY'"}],
    "mark": {"type": "point", "filled": true, "stroke": "#000", "strokeWidth": 1.5, "opacity": 1, "size": 484},
    "encoding": {
     "x": {"field": "x", "type": "quantitative", "scale": {"domain": [17.6, 202], "nice": false, "zero": false}, "axis": null},
     "y": {"field": "y", "type": "quantitative", "scale": {"domain": [25, 200], "nice": false, "zero": false}, "title": "Anal pressure- Valsalva maneuver, mmHg"},
     "shape": {"field": "g", "type": "nominal", "scale": {"domain": ["C-ABNORMAL BET", "HEALTHY"], "range": ["circle", "triangle-up"]}, "legend": null},
     "fill": {"field": "g", "type": "nominal", "scale": {"domain": ["C-ABNORMAL BET", "HEALTHY"], "range": ["#c00000", "#92d050"]}, "legend": null}
    }
   }
  ]
 }
],
"spacing": 135,
"bounds": "flush",
"resolve": {"scale": {"fill": "independent", "shape": "independent", "x": "independent", "y": "independent"}}
}
